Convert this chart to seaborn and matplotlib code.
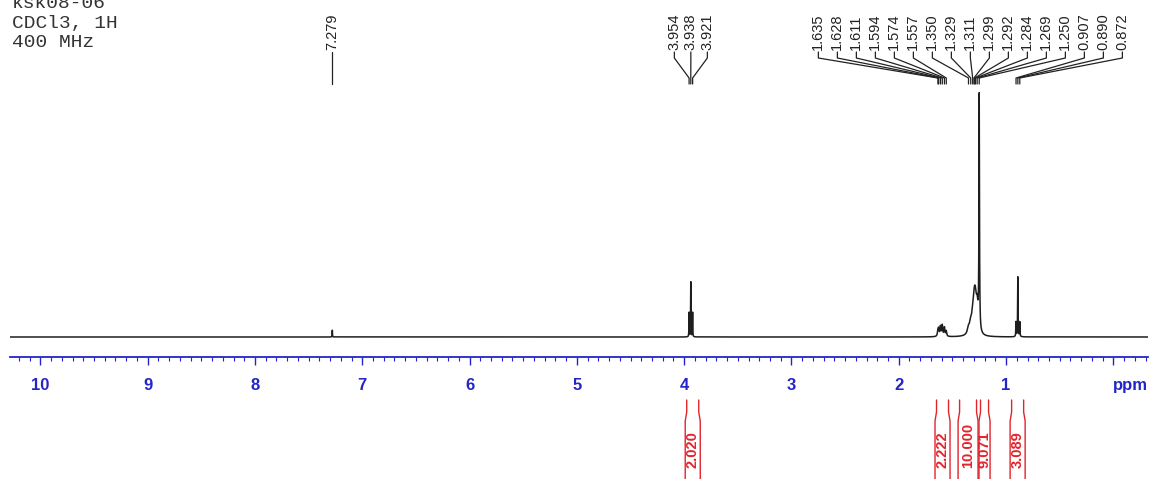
import numpy as np
import pandas as pd
import matplotlib
matplotlib.use("Agg")
import matplotlib.pyplot as plt
import seaborn as sns

# ---------------- data ----------------
header_lines = ["ksk08-06", "CDCl3, 1H", "400 MHz"]

peak_ppm = [7.279, 3.954, 3.938, 3.921,
            1.635, 1.628, 1.611, 1.594, 1.574, 1.557,
            1.350, 1.329, 1.311, 1.299, 1.292, 1.284, 1.269, 1.250,
            0.907, 0.890, 0.872]
peak_height = [0.028, 0.10, 0.225, 0.10,
               0.022, 0.028, 0.040, 0.045, 0.036, 0.022,
               0.026, 0.038, 0.050, 0.063, 0.072, 0.080, 0.095, 0.96,
               0.06, 0.245, 0.06]
peak_width = [0.0015, 0.0015, 0.0015, 0.0015,
              0.005, 0.005, 0.005, 0.005, 0.005, 0.005,
              0.012, 0.012, 0.012, 0.012, 0.012, 0.012, 0.010, 0.0028,
              0.002, 0.002, 0.002]

label_groups = [
    [7.279],
    [3.954, 3.938, 3.921],
    [1.635, 1.628, 1.611, 1.594, 1.574, 1.557, 1.350, 1.329, 1.311,
     1.299, 1.292, 1.284, 1.269, 1.250, 0.907, 0.890, 0.872],
]
label_spacing_px = [19.0, 16.5, 19.0]

int_start = [3.99, 1.662, 1.447, 1.252, 0.962]
int_end = [3.85, 1.522, 1.261, 1.149, 0.822]
int_value = ["2.020", "2.222", "10.000", "9.071", "3.089"]

major_ticks = [10, 9, 8, 7, 6, 5, 4, 3, 2, 1, 0]
major_labels = ["10", "9", "8", "7", "6", "5", "4", "3", "2", "1", "ppm"]

# ---------------- spectrum ----------------
ppm = np.linspace(-0.33, 10.29, 40000)
inten = np.zeros_like(ppm)
for p, h, w in zip(peak_ppm, peak_height, peak_width):
    inten += h * w**2 / ((ppm - p) ** 2 + w**2)
df = pd.DataFrame({"ppm": ppm, "intensity": inten})

# ---------------- figure ----------------
sns.set_theme(style="white")
plt.rcParams["font.family"] = ["Liberation Sans", "DejaVu Sans"]

W, H = 1151, 479
fig = plt.figure(figsize=(W / 100, H / 100), dpi=100)
fig.patch.set_facecolor("white")

ax = fig.add_axes([10 / W, 1 - 357 / H, (1148 - 10) / W, (357 - 85) / H])
sns.lineplot(data=df, x="ppm", y="intensity", ax=ax, color="#1e1e1e",
             linewidth=1.1, estimator=None, errorbar=None, sort=False)
ax.set_xlim(10.283, -0.323)
ax.set_ylim(-0.082, 1.033)
ax.set_facecolor("none")

blue = "#2424c8"
for s in ["top", "left", "right"]:
    ax.spines[s].set_visible(False)
ax.spines["bottom"].set_color(blue)
ax.spines["bottom"].set_linewidth(1.3)
ax.set_yticks([])
ax.set_xticks(major_ticks)
ax.set_xticklabels(major_labels)
ax.set_xticks(np.round(np.arange(-0.3, 10.25, 0.1), 2), minor=True)
ax.tick_params(axis="x", which="major", direction="out", length=6, width=1,
               color=blue, labelcolor=blue, labelsize=12, pad=9, bottom=True)
ax.tick_params(axis="x", which="minor", direction="out", length=3, width=0.8,
               color=blue, bottom=True)
for t in ax.get_xticklabels():
    t.set_fontweight("bold")
ax.get_xticklabels()[-1].set_horizontalalignment("left")
ax.set_xlabel("")
ax.set_ylabel("")

# overlay in pixel coordinates for annotations
ov = fig.add_axes([0, 0, 1, 1])
ov.set_xlim(0, W)
ov.set_ylim(H, 0)
ov.axis("off")
ov.patch.set_alpha(0)

fig.canvas.draw()


def px(p):
    return ax.transData.transform((p, 0))[0]


# header text
for i, line in enumerate(header_lines):
    ov.text(12, 8 + 19.5 * i, line, family="Liberation Mono", fontsize=14,
            color="#333333", ha="left", va="baseline")

# peak labels with leader lines
for grp, sp in zip(label_groups, label_spacing_px):
    pxs = [px(p) for p in grp]
    center = np.mean(pxs)
    n = len(grp)
    for i, (p, xp) in enumerate(zip(grp, pxs)):
        lx = center + (i - (n - 1) / 2) * sp
        ov.plot([lx, lx, xp, xp], [52, 58, 78, 84], color="#222222", lw=0.9)
        ov.text(lx, 50, f"{p:.3f}", rotation=90, ha="center", va="bottom",
                fontsize=10.5, color="#222222")

# integrals
red = "#e3232c"
for a, b, v in zip(int_start, int_end, int_value):
    xa, xb = px(a), px(b)
    ov.plot([xa + 1.5, xa + 1.5, xa, xa], [400, 412, 421, 479], color=red, lw=1)
    ov.plot([xb - 1.5, xb - 1.5, xb, xb], [400, 412, 421, 479], color=red, lw=1)
    ov.text((xa + xb) / 2, 468, v, rotation=90, ha="center", va="bottom",
            fontsize=10.5, fontweight="bold", color=red)

fig.savefig("out.png", dpi=100, facecolor="white")
